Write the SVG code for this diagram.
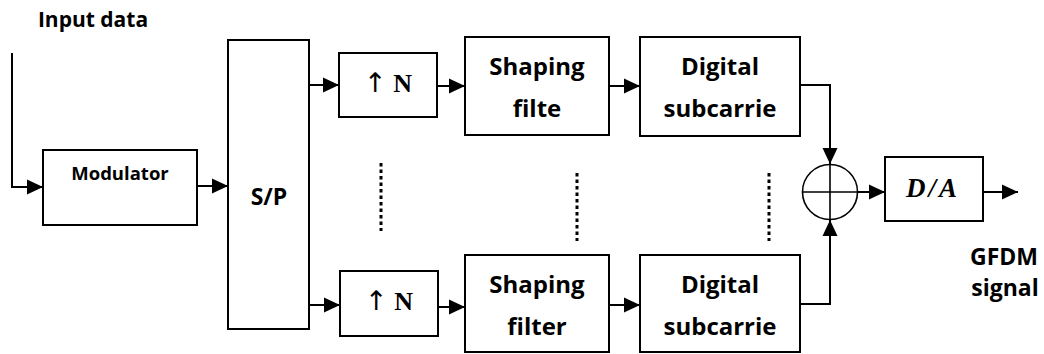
<svg xmlns="http://www.w3.org/2000/svg" width="1044" height="354" viewBox="0 0 1044 354">
<style>
.box{fill:#fff;stroke:#000;stroke-width:2}
.ln{fill:none;stroke:#000;stroke-width:2}
.dot{fill:none;stroke:#000;stroke-width:3;stroke-dasharray:3.5 3}
.t{font-family:"Open Sans","Liberation Sans",sans-serif;font-weight:700;fill:#000;text-anchor:middle}
.m{font-family:"Liberation Serif","DejaVu Serif",serif;font-weight:700;fill:#000;text-anchor:middle}
.arr{font-family:"DejaVu Sans",sans-serif;font-weight:400;fill:#000}
</style>
<defs>
<marker id="ah" viewBox="0 0 16 16" markerWidth="8" markerHeight="8" refX="16" refY="8" orient="auto">
<path d="M0,0.5 L16,8 L0,15.5 z" fill="#000"/>
</marker>
</defs>
<rect width="1044" height="354" fill="#fff"/>
<text class="t" x="93" y="27" font-size="21">Input data</text>
<g id="connectors">
<path class="ln" d="M12,53 V187 H43" marker-end="url(#ah)"/>
<path class="ln" d="M197,186 H228" marker-end="url(#ah)"/>
<path class="ln" d="M310,85 H339" marker-end="url(#ah)"/>
<path class="ln" d="M437,86 H465" marker-end="url(#ah)"/>
<path class="ln" d="M609,86 H640" marker-end="url(#ah)"/>
<path class="ln" d="M800,85 H830 V164" marker-end="url(#ah)"/>
<path class="ln" d="M310,305 H340" marker-end="url(#ah)"/>
<path class="ln" d="M438,307 H465" marker-end="url(#ah)"/>
<path class="ln" d="M609,305 H640" marker-end="url(#ah)"/>
<path class="ln" d="M800,304 H830 V220" marker-end="url(#ah)"/>
<path class="ln" d="M858,192 H885" marker-end="url(#ah)"/>
<path class="ln" d="M983,192 H1018" marker-end="url(#ah)"/>
<path class="dot" d="M381,163 V231"/>
<path class="dot" d="M577,173 V241"/>
<path class="dot" d="M769,173 V241"/>
</g>
<g id="modulator"><rect class="box" x="43" y="150" width="154" height="75"/><text class="t" x="120" y="180" font-size="18.5">Modulator</text></g>
<g id="sp"><rect class="box" x="228" y="40" width="81" height="289"/><text class="t" x="269" y="205" font-size="23">S/P</text></g>
<g id="up1"><rect class="box" x="339" y="53" width="98" height="64"/><text class="m" x="388" y="92" font-size="26"><tspan class="arr" font-size="27">↑</tspan> N</text></g>
<g id="shape1"><rect class="box" x="465" y="37" width="144" height="98"/><text class="t" x="537" y="75" font-size="24">Shaping</text><text class="t" x="537" y="117" font-size="24">filte</text></g>
<g id="digital1"><rect class="box" x="640" y="37" width="160" height="99"/><text class="t" x="720" y="75" font-size="24">Digital</text><text class="t" x="720" y="117" font-size="24">subcarrie</text></g>
<g id="up2"><rect class="box" x="340" y="271" width="98" height="65"/><text class="m" x="389" y="310" font-size="26"><tspan class="arr" font-size="27">↑</tspan> N</text></g>
<g id="shape2"><rect class="box" x="465" y="255" width="144" height="97"/><text class="t" x="537" y="293" font-size="24">Shaping</text><text class="t" x="537" y="335" font-size="24">filter</text></g>
<g id="digital2"><rect class="box" x="640" y="255" width="160" height="97"/><text class="t" x="720" y="293" font-size="24">Digital</text><text class="t" x="720" y="335" font-size="24">subcarrie</text></g>
<g id="sum"><circle cx="830" cy="192" r="27.5" fill="#fff" stroke="#000" stroke-width="1.6"/><path d="M802.5,192 H857.5 M830,164.5 V219.5" stroke="#000" stroke-width="1.6"/></g>
<g id="da"><rect class="box" x="885" y="157" width="98" height="64"/><text class="m" x="933" y="197" font-size="27" font-style="italic" letter-spacing="3">D/A</text></g>
<g id="out"><text class="t" x="1004" y="265" font-size="23">GFDM</text><text class="t" x="1005" y="296" font-size="23">signal</text></g>
</svg>
